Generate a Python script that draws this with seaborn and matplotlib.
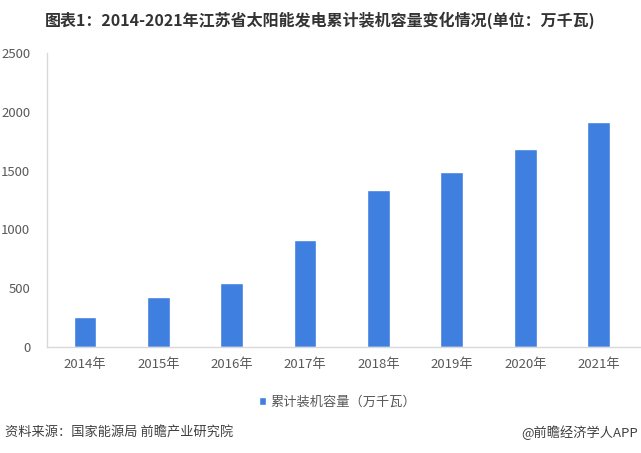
import matplotlib
matplotlib.use("Agg")
import matplotlib.pyplot as plt
import seaborn as sns
import pandas as pd

years = ["2014年", "2015年", "2016年", "2017年", "2018年", "2019年", "2020年", "2021年"]
capacity = [257, 422, 546, 907, 1332, 1486, 1684, 1916]
yticks = [0, 500, 1000, 1500, 2000, 2500]
series_name = "累计装机容量（万千瓦）"

sns.set_theme(style="white")
plt.rcParams['font.family'] = ['Noto Sans CJK SC', 'DejaVu Sans']

df = pd.DataFrame({"year": years, "value": capacity, "series": series_name})

fig = plt.figure(figsize=(6.41, 4.53), dpi=100)
ax = fig.add_axes([0.073, 0.234, 0.925, 0.649])

sns.barplot(data=df, x="year", y="value", hue="series", palette=["#3F7FE0"],
            width=0.31, ax=ax, legend=True, saturation=1)

ax.set_xlim(-0.52, 7.56)
ax.set_ylim(0, 2500)
ax.set_yticks(yticks)
ax.set_yticklabels([str(v) for v in yticks])
ax.set_xlabel("")
ax.set_ylabel("")
ax.tick_params(axis='both', length=0, colors="#595959", labelsize=9.5)
ax.tick_params(axis='x', pad=8)
ax.tick_params(axis='y', pad=12)
for s in ["top", "right"]:
    ax.spines[s].set_visible(False)
for s in ["left", "bottom"]:
    ax.spines[s].set_color("#D9D9D9")
    ax.spines[s].set_linewidth(1)

leg = ax.legend(loc="upper center", bbox_to_anchor=(0.49, -0.125), frameon=False,
                fontsize=9.5, handlelength=0.6, handleheight=0.6, handletextpad=0.3)
for t in leg.get_texts():
    t.set_color("#595959")

fig.text(0.5, 0.955, "图表1：2014-2021年江苏省太阳能发电累计装机容量变化情况(单位：万千瓦)",
         ha="center", va="center", fontsize=11.5, fontweight="bold", color="#333333")
fig.text(0.008, 0.045, "资料来源：国家能源局 前瞻产业研究院", ha="left", va="center",
         fontsize=9.5, color="#404040")
fig.text(0.995, 0.045, "@前瞻经济学人APP", ha="right", va="center",
         fontsize=9.5, color="#404040")

fig.savefig("out.png", dpi=100)
